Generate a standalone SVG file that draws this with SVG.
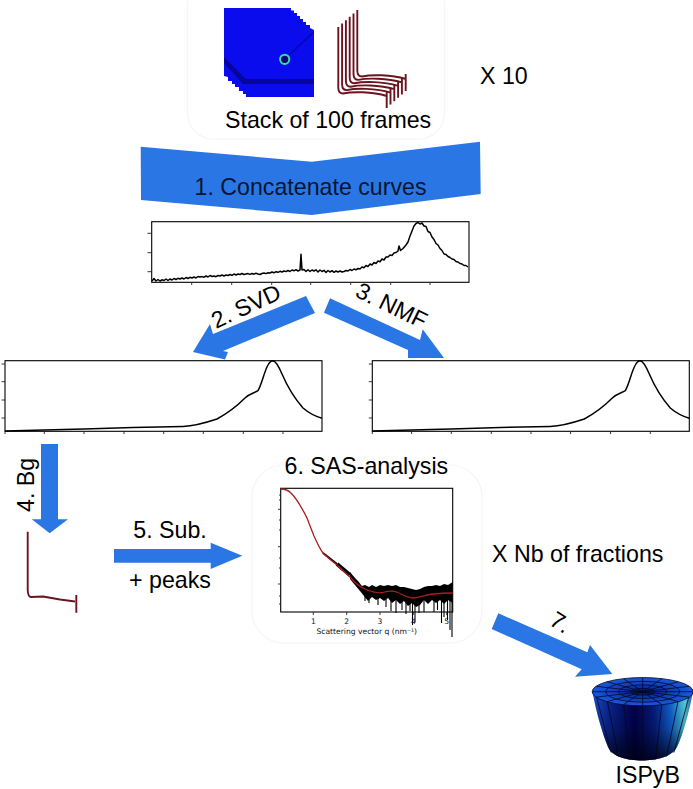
<svg xmlns="http://www.w3.org/2000/svg" xmlns:xlink="http://www.w3.org/1999/xlink" width="693" height="789" viewBox="0 0 693 789">
<style>
text{font-family:"Liberation Sans",Arial,sans-serif;font-size:23.2px;fill:#000}
.arrow{fill:#2b76e5}
.panel{fill:#fff;stroke:#f5f5f5;stroke-width:1.2}
.frame{fill:none;stroke:#000;stroke-width:1.1}
.tick{fill:none;stroke:#222;stroke-width:.9}
.curve{fill:none;stroke:#000;stroke-width:1.5;stroke-linejoin:round}
.wf{fill:none;stroke:#6b1420;stroke-width:1.9;stroke-linejoin:round}
.small{font-family:"DejaVu Sans",sans-serif;font-size:7.6px;fill:#111}
.facet{fill:none;stroke:#04082a;stroke-width:.8}
</style>
<defs>
<linearGradient id="side" x1="0" x2="1" y1="0" y2="0">
<stop offset="0" stop-color="#1a52d0"/><stop offset=".15" stop-color="#0c2a98"/><stop offset=".42" stop-color="#00004e"/><stop offset=".62" stop-color="#062088"/><stop offset=".78" stop-color="#1268dc"/><stop offset=".92" stop-color="#58d8e0"/><stop offset="1" stop-color="#1a50a0"/>
</linearGradient>
<linearGradient id="shade" x1="0" x2="0" y1="0" y2="1">
<stop offset="0" stop-color="#000010" stop-opacity="0"/><stop offset=".55" stop-color="#000010" stop-opacity=".25"/><stop offset="1" stop-color="#000010" stop-opacity=".85"/>
</linearGradient>
<radialGradient id="top"><stop offset="0" stop-color="#000030"/><stop offset=".2" stop-color="#0a2a90"/><stop offset=".7" stop-color="#1448c4"/><stop offset="1" stop-color="#1a58d8"/></radialGradient>
<path id="wfc" d="M338.300 27V88Q338.500 93.500 343 93.500C352 91.500 372 91.500 386.700 96V108M386.700 96V91"/>
<path id="peak" d="M5 431 L44 430 84 429 133 427.500 183 426.500C195 426 205 423 217 419C228 413 238 405 245 398C249 394 254 393 258 390.700C262 384 264 372 268 365C270 361 272 360.700 273 360.700C276 361 279 367 282 374C288 388 296 400 303 408C310 414 316 416.500 322 418.300"/>
<clipPath id="sasclip"><rect x="280" y="480" width="174" height="160"/></clipPath>
</defs>
<rect width="693" height="789" fill="#fff"/>

<g id="node-stack">
<rect class="panel" x="187.500" y="-20" width="257" height="159" rx="26"/>
<polygon fill="#0a0cee" points="224,8 291,8 291,10.500 294,10.500 294,13 297,13 297,16 300,16 300,19 303,19 303,22 306,22 306,25 310,25 310,28 314,30 314,97 246,97 246,94 243,94 243,91 239,91 239,87 235,87 235,84 232,84 232,81 228,81 228,77 224,76"/>
<polygon fill="#06069c" points="224,57 246,79 314,79 314,84 243,84 224,63"/>
<line x1="313.700" y1="32" x2="287" y2="57" stroke="#0606a8" stroke-width="1.300"/>
<circle cx="284.700" cy="59.300" r="4.600" fill="#05056e" stroke="#38dcb0" stroke-width="2"/>
<g class="wf">
<use xlink:href="#wfc" transform="translate(19 -17)"/>
<use xlink:href="#wfc" transform="translate(15.200 -13.600)"/>
<use xlink:href="#wfc" transform="translate(11.400 -10.200)"/>
<use xlink:href="#wfc" transform="translate(7.600 -6.800)"/>
<use xlink:href="#wfc" transform="translate(3.800 -3.400)"/>
<use xlink:href="#wfc"/>
</g>
<text x="225" y="128">Stack of 100 frames</text>
</g>

<g id="node-x10"><text x="480" y="84">X 10</text></g>

<g id="node-concat-plot">
<rect class="frame" x="151.700" y="221.700" width="317.300" height="60.600" fill="#fff"/>
<path class="tick" d="M147.500 233.300H151.700M147.500 252.700H151.700M147.500 271.700H151.700M191.700 282.300V285M231.700 282.300V285M271.700 282.300V285M310.700 282.300V285M350.700 282.300V285M390.700 282.300V285M430 282.300V285"/>
<polyline class="curve" points="152,281 154,278.500 156,281 158,279.500 160,281 162,279.800 164,280.500 166,279 168,280.500 170,279 172,280 174,278.500 176,279.500 178,278.300 180,279 182,278 184,279 186,277.500 188,278.500 190,277.300 192,278 194,277 196,278 198,276.500 200,277 202,276.600 204,277.200 206,276 208,277 210,275.500 212,276.500 214,276 216,276.700 218,275.500 220,276 222,275 224,276 226,275 228,275.500 230,274.500 232,275.400 234,274 236,275 238,274 240,274.500 242,273.500 244,274.500 246,274 248,273.600 250,274.400 252,273.500 254,274.200 256,273.200 258,274 260,274.500 262,273.500 264,273 266,273.600 268,272.800 270,273 272,272 274,272.800 276,271.700 278,272.300 280,271.300 282,272 284,271 286,271.600 288,270.500 290,271.500 292,270 294,270.800 296,269.700 298,271 300,270 301,254.300 302,270 304,269.500 306,271.500 308,269.800 310,271.500 312,270 314,271 316,269.800 318,272 320,270 322,271.500 324,270.300 326,272.500 328,270.500 330,272 332,270.700 334,272.300 336,271 338,272 340,271 342,272 344,271.500 346,270.500 348,271 350,269.500 352,270.500 354,269 356,269.800 358,268.500 360,269 362,267 364,267.800 366,265.500 368,266.500 370,264 372,265 374,262.500 376,263.500 378,261 380,261.800 382,259 384,260 386,257 388,257 390,255 392,255.500 394,253 396,252.500 398,251 399,246 400.500,250.500 403,248.500 406,245 408,242 410,236 412,231 414,226 416,223.500 418,222.500 420,224 422,223 424,226 426,226.500 428,231.500 430,232.500 432,237 434,239.500 436,243.500 438,245 440,248.500 442,250.500 444,254 446,254.500 448,256.500 450,257.500 452,259 454,259.500 456,261.500 458,262 460,263.500 462,264 464,265.500 466,265.500 468,267"/>
</g>

<g id="node-svd-plot">
<rect class="frame" x="5" y="360.700" width="317" height="70.600" fill="#fff"/>
<path class="tick" d="M1.500 364H5M1.500 381.700H5M1.500 400H5M1.500 418H5M5 431.300V434M44.300 431.300V434M84 431.300V434M124 431.300V434M163.700 431.300V434M203.300 431.300V434M243.300 431.300V434M283 431.300V434"/>
<use xlink:href="#peak" class="curve"/>
</g>

<g id="node-nmf-plot">
<rect class="frame" x="372.300" y="360.700" width="317" height="70.600" fill="#fff"/>
<path class="tick" d="M368.800 364H372.300M368.800 381.700H372.300M368.800 400H372.300M368.800 418H372.300M372.300 431.300V434M411.600 431.300V434M451.300 431.300V434M491.300 431.300V434M531 431.300V434M570.600 431.300V434M610.600 431.300V434M650.300 431.300V434"/>
<use xlink:href="#peak" class="curve" transform="translate(367.300 0)"/>
</g>

<g id="node-bg">
<path class="wf" d="M27.700 531.700V590Q28 597 31 597L43 596.500 60 599.500 75 601.500M76.300 595V612.700"/>
</g>

<g id="node-sas">
<rect class="panel" x="252" y="465" width="230" height="178" rx="32"/>
<text x="284.500" y="473.500">6. SAS-analysis</text>
<rect class="frame" x="280.700" y="488.300" width="172" height="123.700" fill="#fff"/>
<path class="tick" d="M313.300 612V615M346.700 612V615M380 612V615M413.300 612V615M446.700 612V615M278 509.300H280.700M278 546.700H280.700M278 584H280.700M279 495H280.700M279 500H280.700M279 520H280.700M279 530H280.700M279 558H280.700M279 568H280.700M279 596H280.700M279 604H280.700"/>
<g clip-path="url(#sasclip)">
<path d="M323 553 337 564" fill="none" stroke="#000" stroke-width="2"/>
<path d="M337 564 350 575" fill="none" stroke="#000" stroke-width="4"/>
<polygon fill="#000" points="350,572 355,578 358,581 362,586 365,585 369,587 372,585 376,587 380,585 384,586 388,585 392,586 396,585 400,587 404,587 408,588 412,589 416,590 420,589 424,587 428,586 432,586 436,585 440,586 444,584 448,585 452.700,582 452.700,603 448,600 444,604 440,600 436,603 432,600 428,604 424,600 420,605 416,607 412,603 408,606 404,601 400,604 396,600 392,603 388,598 384,601 380,598 376,600 372,597 368,601 364,596 360,591 355,585 350,579"/>
<path fill="none" stroke="#000" stroke-width="1.100" d="M365 596V601M369 596V603M378 596V605M386 598V607M391 600V611M396 600V613M402 600V610M406 602V614M410 603V611M412.500 603V625M415 604V622M419 603V613M424 600V612M434 600V612M437.500 600V610M441.500 600V623M444 600V617M447.500 600V620M450 600V630M452 600V637"/>
<path d="M280.700 489C284 489 288 490 291 493C297 499 303 510 307 518C310 526 312 531 314 536C318 545 320 549 323 553C327 557 332 561 337 565L350 577C356 584 360 587 365 589C372 592 378 593.500 383 592.500C388 591 392 590.500 396.700 592C402 594 406 597.500 413 598C420 598 424 595 433 594C443 593 450 593 452.700 593" fill="none" stroke="#a8201e" stroke-width="1.300"/>
</g>
<text class="small" x="313.300" y="624" text-anchor="middle">1</text>
<text class="small" x="346.700" y="624" text-anchor="middle">2</text>
<text class="small" x="380" y="624" text-anchor="middle">3</text>
<text class="small" x="413.300" y="624" text-anchor="middle">4</text>
<text class="small" x="446.700" y="624" text-anchor="middle">5</text>
<text class="small" x="366.700" y="634" text-anchor="middle">Scattering vector q (nm⁻¹)</text>
</g>

<g id="node-fractions"><text x="492" y="562">X Nb of fractions</text></g>

<g id="node-ispyb">
<path d="M592.500 692C596 712 603 735 608 747C612 757 628 760.500 642 760.500C656 760.500 672 757 677 747C683 735 689 712 693 692Z" fill="url(#side)"/>
<path class="facet" d="M688.900 696.900 673.900 752.600M678.100 701.200 666.500 756.500M661.800 704.200 655.500 759.100M642.700 705.200 642.500 760M623.600 704.200 629.500 759.100M607.300 701.200 618.500 756.500M596.500 696.900 611.100 752.600"/>
<path d="M592.500 692C596 712 603 735 608 747C612 757 628 760.500 642 760.500C656 760.500 672 757 677 747C683 735 689 712 693 692Z" fill="url(#shade)"/>
<g transform="translate(642.700 691.700) scale(1 .28)">
<circle r="50.500" fill="url(#top)"/>
<g fill="none" stroke="#04082a" stroke-width=".8">
<circle r="50.500" vector-effect="non-scaling-stroke"/><circle r="37" vector-effect="non-scaling-stroke"/><circle r="24" vector-effect="non-scaling-stroke"/><circle r="12" vector-effect="non-scaling-stroke"/>
<path vector-effect="non-scaling-stroke" d="M-50 0H50M-46.200 -19.100 46.200 19.100M-35.400 -35.400 35.400 35.400M-19.100 -46.200 19.100 46.200M0 -50V50M19.100 -46.200-19.100 46.200M35.400 -35.400-35.400 35.400M46.200 -19.100-46.200 19.100"/>
</g>
</g>
<text x="615.500" y="783.300">ISPyB</text>
</g>

<g id="connectors">
<g id="edge-1"><polygon class="arrow" points="140.700,146.700 311.700,161.700 480,141.700 480.700,194 311.700,215 141,200"/><text x="194.500" y="195" style="fill:#071630">1. Concatenate curves</text></g>
<g id="edge-2"><polygon class="arrow" points="306,296 315,313 223,351 228,352 225,359.500 193,352 210,324 213,334"/><text transform="translate(216 329) rotate(-25)">2. SVD</text></g>
<g id="edge-3"><polygon class="arrow" points="330,298.300 324,312.700 408,350 408,358 444,358 422.700,329.300 420,340"/><text transform="translate(354 296) rotate(26)">3. NMF</text></g>
<g id="edge-4"><polygon class="arrow" points="41,444 58,444 58,519.300 68,519.300 49.700,533.300 31.700,519.300 41,519.300"/><text transform="translate(33.500 512) rotate(-90)">4. Bg</text></g>
<g id="edge-5"><polygon class="arrow" points="114,549 210.700,549 210.700,542.700 242.300,555.700 210.700,569 210.700,562.700 114,562.700"/><text x="170" y="538" text-anchor="middle">5. Sub.</text><text x="170" y="588" text-anchor="middle">+ peaks</text></g>
<g id="edge-7"><polygon class="arrow" points="498.300,613.300 491.700,629 581.700,669.300 575,676.700 612.300,674 590,645 587.300,652.300"/><text transform="translate(548 624) rotate(32)">7.</text></g>
</g>
</svg>
